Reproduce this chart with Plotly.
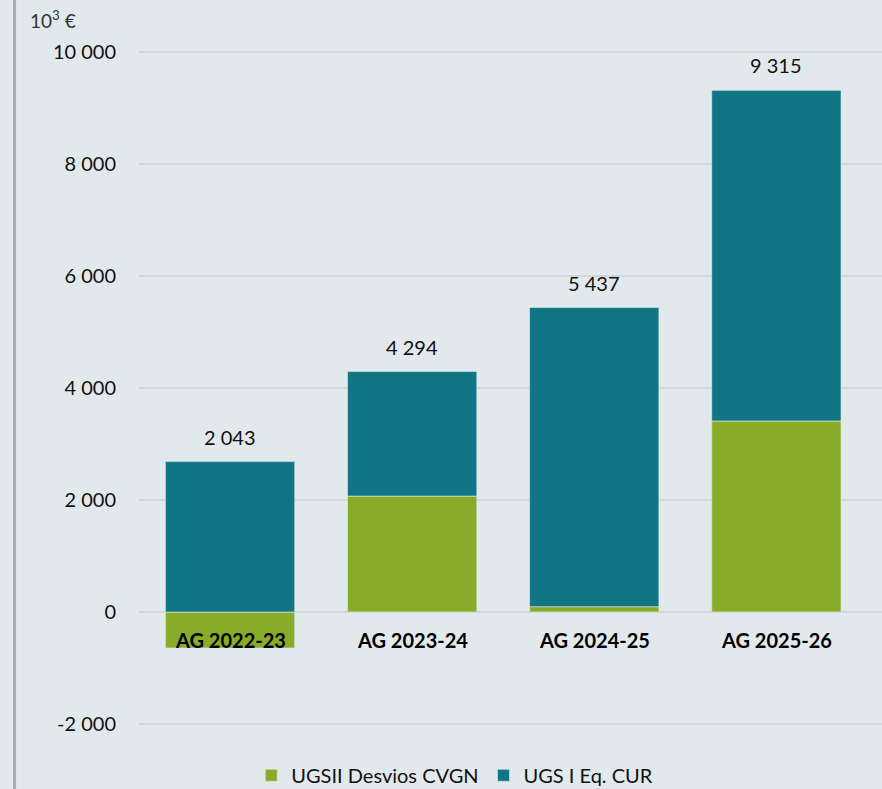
import plotly.graph_objects as go

categories = ["AG 2022-23", "AG 2023-24", "AG 2024-25", "AG 2025-26"]
ugsii_desvios = [-643, 2070, 95, 3411]
ugs_i_eq_cur = [2686, 2224, 5342, 5904]
totals = [2043, 4294, 5437, 9315]
y_ticks = [-2000, 0, 2000, 4000, 6000, 8000, 10000]
y_tick_labels = ["-2 000", "0", "2 000", "4 000", "6 000", "8 000", "10 000"]

BG = "#E2E9ED"
GREEN = "#88AC28"
TEAL = "#107585"
FONT = "Lato"

fig = go.Figure()
fig.add_trace(go.Bar(x=categories, y=ugsii_desvios, name="UGSII Desvios CVGN",
                     marker=dict(color=GREEN, line=dict(width=0.6, color=BG))))
fig.add_trace(go.Bar(x=categories, y=ugs_i_eq_cur, name="UGS I Eq. CUR",
                     marker=dict(color=TEAL, line=dict(width=0.6, color=BG))))

def fmt(v):
    return f"{v:,}".replace(",", " ")

annotations = []
for c, g, t, tot in zip(categories, ugsii_desvios, ugs_i_eq_cur, totals):
    top = max(g, 0) + t
    annotations.append(dict(x=c, y=top, text=fmt(tot), showarrow=False, yshift=25,
                            font=dict(family=FONT, size=20, color="#111111")))
    annotations.append(dict(x=c, y=-500, text=f"<b>{c}</b>", showarrow=False,
                            font=dict(family=FONT, size=20, color="#000000")))
annotations.append(dict(xref="paper", yref="paper", x=-0.149, y=1.006, text="10<sup>3</sup> €",
                        showarrow=False, xanchor="left", yanchor="middle",
                        font=dict(family=FONT, size=19, color="#333333")))

fig.update_layout(
    width=882, height=789,
    margin=dict(l=139, r=0, t=24, b=37, autoexpand=False),
    paper_bgcolor=BG, plot_bgcolor=BG,
    barmode="relative", bargap=0.29,
    font=dict(family=FONT, size=20, color="#111111"),
    showlegend=True,
    legend=dict(orientation="h", x=0.425, xanchor="center", y=-0.032, yanchor="middle",
                traceorder="normal", font=dict(family=FONT, size=20, color="#111111"),
                bgcolor="rgba(0,0,0,0)"),
    xaxis=dict(range=[-0.5, 3.58], showticklabels=False, showgrid=False, zeroline=False,
               showline=False, ticks=""),
    yaxis=dict(range=[-2500, 10500], tickvals=y_ticks, ticktext=y_tick_labels,
               showgrid=True, gridcolor="#D3D6D8", gridwidth=1.5,
               zeroline=True, zerolinecolor="#D3D6D8", zerolinewidth=1.5,
               showline=False, ticks="", ticklabelstandoff=22,
               tickfont=dict(family=FONT, size=20, color="#111111")),
    annotations=annotations,
    shapes=[dict(type="line", xref="paper", yref="paper", x0=-0.1675, x1=-0.1675,
                 y0=-0.06, y1=1.04, line=dict(color="#ABABAB", width=3))],
)

fig.write_html("out.html")
